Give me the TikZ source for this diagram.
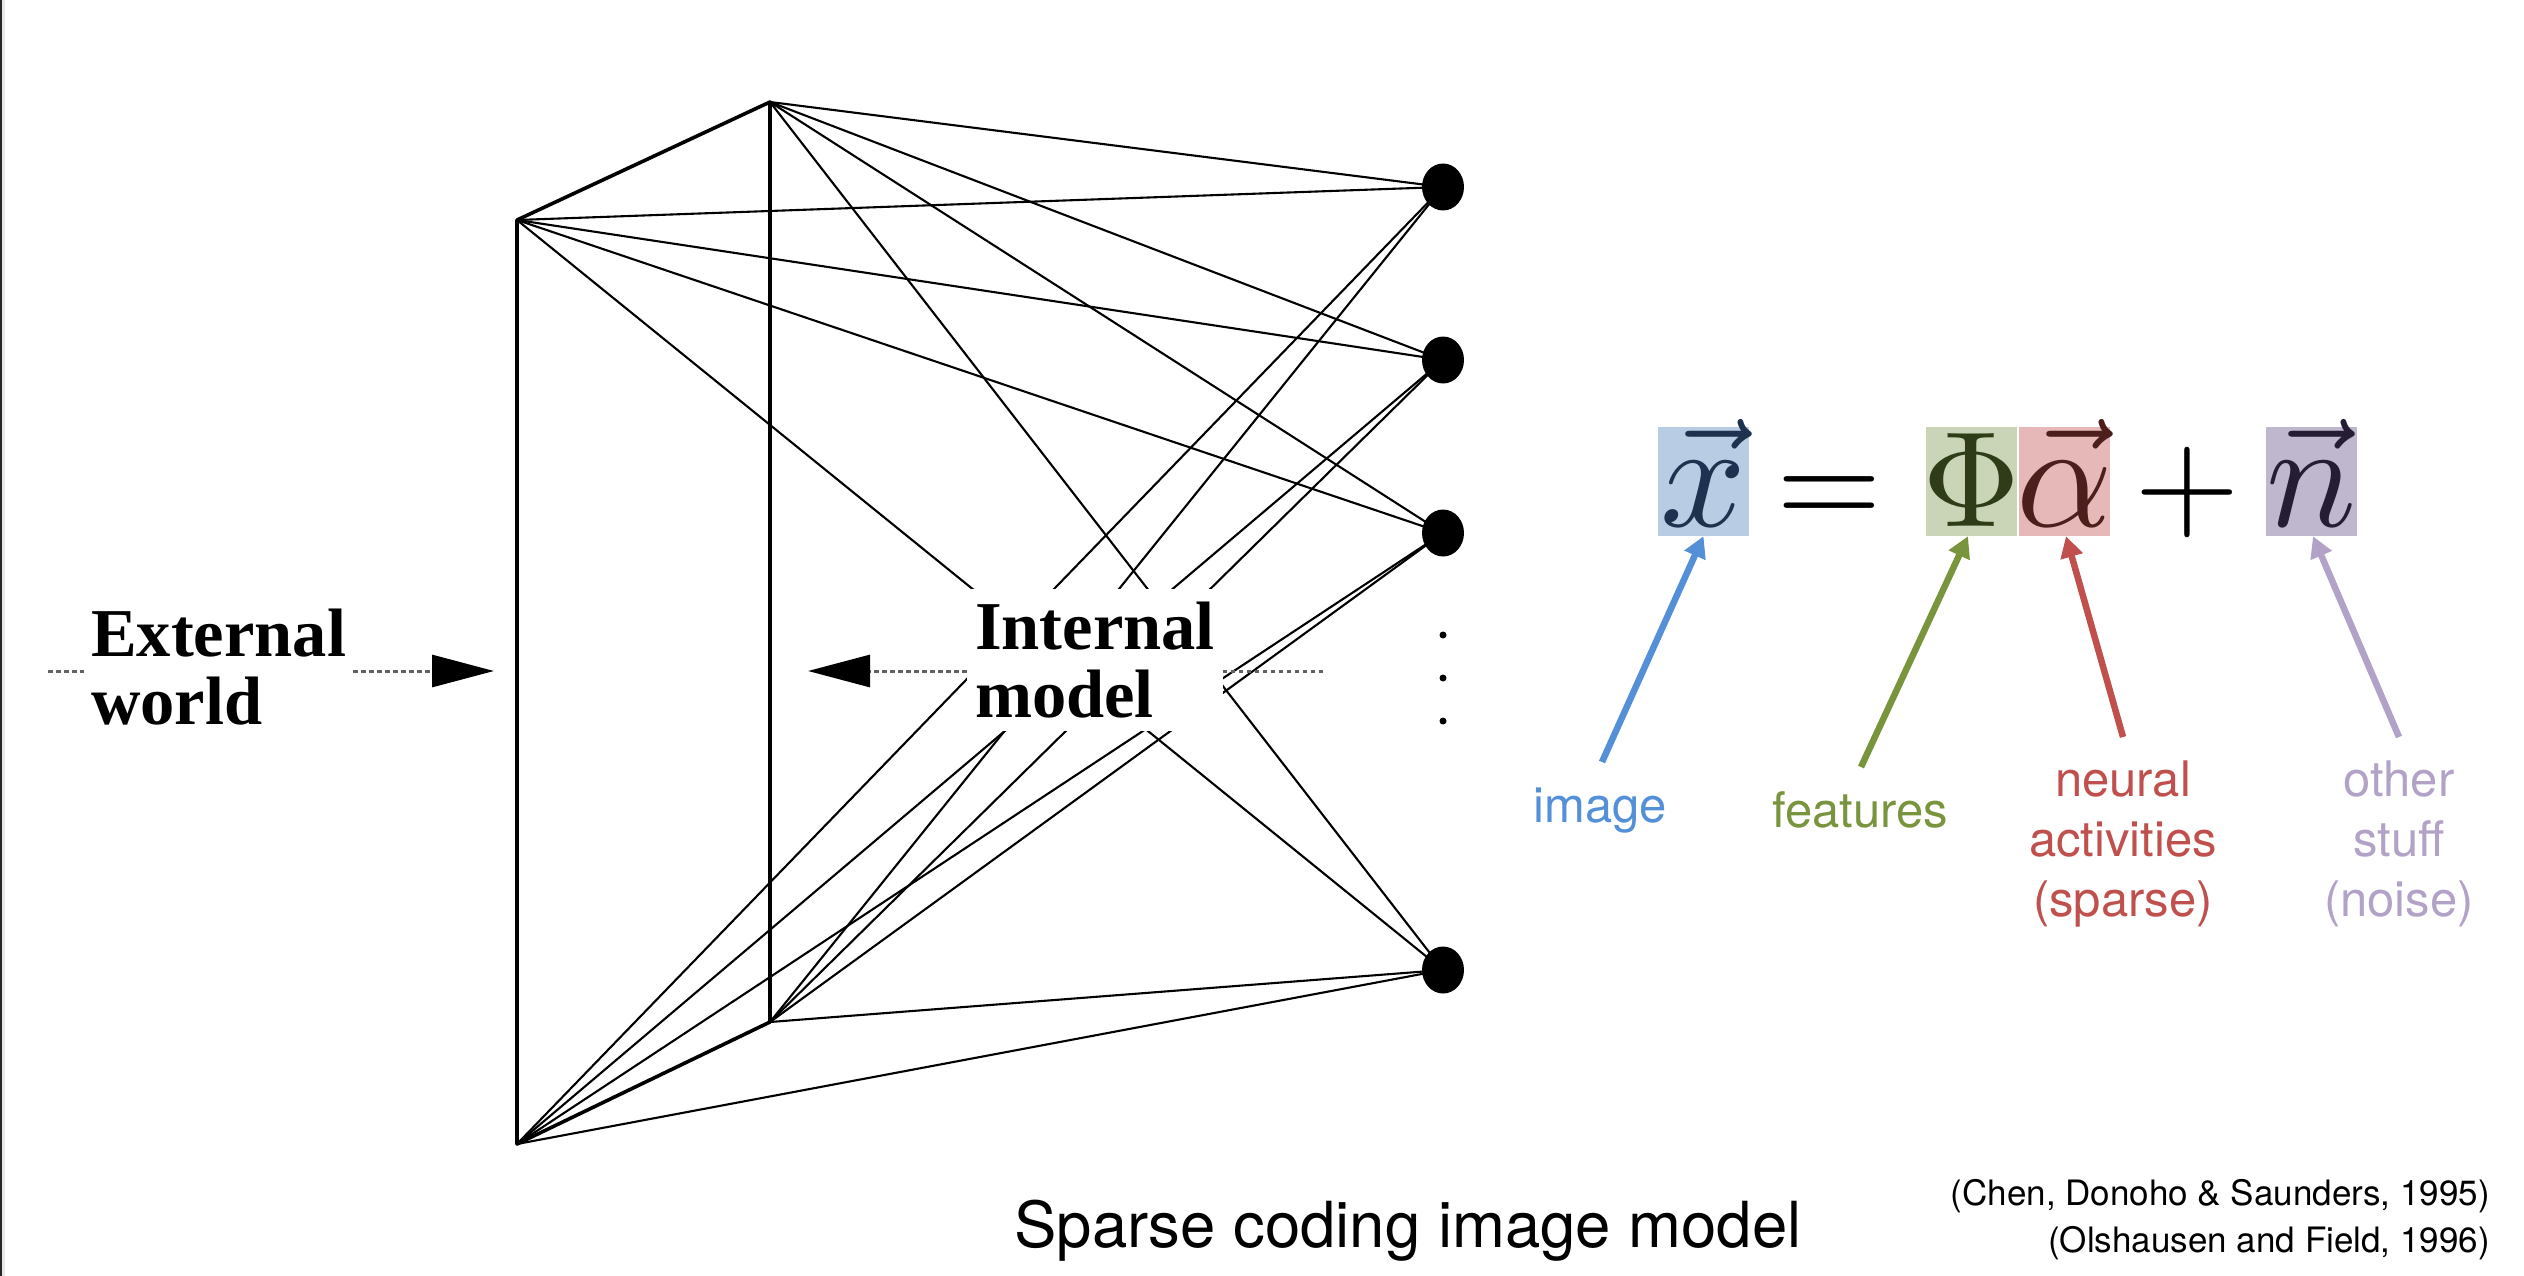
\documentclass[tikz,border=0pt]{standalone}
\usepackage{fontspec}
\newfontfamily\tms{Liberation Serif}
\newfontfamily\hv{TeX Gyre Heros}
\usetikzlibrary{arrows.meta,shapes.geometric}
\definecolor{imgc}{HTML}{5490D8}
\definecolor{featc}{HTML}{78943C}
\definecolor{neurc}{HTML}{C0504D}
\definecolor{noisec}{HTML}{B2A2C8}
\definecolor{xboxc}{HTML}{B8CCE4}
\definecolor{phiboxc}{HTML}{CAD4B6}
\definecolor{alboxc}{HTML}{E6B9B8}
\definecolor{nboxc}{HTML}{BFB7CE}
\definecolor{xtxt}{HTML}{1E3250}
\definecolor{phitxt}{HTML}{2E3C18}
\definecolor{altxt}{HTML}{4C1E1C}
\definecolor{ntxt}{HTML}{241D34}
\definecolor{bordc}{HTML}{262626}
\newcommand{\eqvar}[1]{\scalebox{15}{$#1$}}
\newcommand{\eqop}[1]{\scalebox{13.6}{$#1$}}
\begin{document}
\begin{tikzpicture}[x=1pt,y=-1pt,
  conn/.style={line width=2.1pt, black},
  planeedge/.style={line width=3.6pt, black, line join=round, line cap=round},
  unit/.style={ellipse, fill=black, minimum width=42pt, minimum height=47pt, inner sep=0pt},
  smalldot/.style={circle, fill=black, minimum size=7pt, inner sep=0pt},
  dotline/.style={line width=3pt, black!62, dash pattern=on 4.5pt off 3.5pt},
  bigtip/.style={-{Triangle[length=62pt,width=32pt,color=black,fill=black]}},
  boldlbl/.style={font=\tms\bfseries\fontsize{68.5}{68}\selectfont, align=left, fill=white, inner sep=0pt},
  eqbox/.style={minimum width=91pt, minimum height=109pt, inner sep=0pt, draw=none},
  mathlbl/.style={anchor=base, inner sep=0pt},
  larr/.style={line width=6.5pt, -{Triangle[length=21pt,width=22pt]}},
  lbl/.style={anchor=base, inner sep=0pt, font=\hv\fontsize{49}{60}\selectfont},
  cite/.style={anchor=base east, inner sep=0pt, font=\hv\fontsize{35}{47}\selectfont}
]
\useasboundingbox (0,0) rectangle (2524,1276);
\fill[white] (0,0) rectangle (2524,1276);
\fill[bordc] (0,0) rectangle (2.2,1276);
\fill[black!9] (2.2,0) rectangle (5,1276);

% plane vertices
\coordinate (T) at (770,102);
\coordinate (A) at (517,220);
\coordinate (B) at (770,1022);
\coordinate (C) at (517,1144);

% units
\node[unit] (d1) at (1443,187) {};
\node[unit] (d2) at (1443,360) {};
\node[unit] (d3) at (1443,533) {};
\node[unit] (d4) at (1443,970) {};
\node[smalldot] (e1) at (1443,635) {};
\node[smalldot] (e2) at (1443,678) {};
\node[smalldot] (e3) at (1443,721) {};

% connections
\foreach \v in {T,A,B,C}
  \foreach \d in {d1,d2,d3,d4}
    \draw[conn] (\v) -- (\d.center);
\draw[planeedge] (A) -- (T) -- (B) -- (C) -- cycle;

% labels on the left
\node[boldlbl, inner xsep=7pt, inner ysep=8pt, anchor=west] (ext) at (84,667) {External\\world};
\node[boldlbl, inner xsep=8pt, inner ysep=13pt] (int) at (1095,660) {Internal\\model};

\coordinate (ein) at (494,671);
\coordinate (eout) at (48,671);
\coordinate (iin) at (808,671);
\coordinate (iout) at (1323,671);
\draw[dotline] (eout) -- (ext.west |- eout);
\draw[dotline, bigtip] (ext.east |- ein) -- (ein);
\draw[dotline] (iout) -- (int.east |- iout);
\draw[dotline, bigtip] (int.west |- iin) -- (iin);

% equation
\node[eqbox, fill=xboxc] (bx) at (1703.5,481.5) {};
\node[eqbox, fill=phiboxc] (bphi) at (1971.5,481.5) {};
\node[eqbox, fill=alboxc] (bal) at (2064.5,481.5) {};
\node[eqbox, fill=nboxc] (bn) at (2311,481.5) {};
\node[mathlbl, text=xtxt] (mx) at (1703.5,526) {\eqvar{\vec{x}}};
\node[mathlbl] (meq) at (1829,526) {\eqop{=}};
\node[mathlbl, text=phitxt] (mphi) at (1971.5,526) {\eqop{\Phi}};
\node[mathlbl, text=altxt] (mal) at (2064.5,526) {\eqvar{\vec{\alpha}}};
\node[mathlbl] (mplus) at (2187,526) {\eqop{+}};
\node[mathlbl, text=ntxt] (mn) at (2311,526) {\eqvar{\vec{n}}};

% annotation labels
\node[lbl, text=imgc] (limg) at (1600,822) {image};
\node[lbl, text=featc] (lfeat) at (1860,827) {features};
\node[lbl, text=neurc] (ln1) at (2123,796) {neural};
\node[lbl, text=neurc] (ln2) at (2123,856) {activities};
\node[lbl, text=neurc] (ln3) at (2123,916) {(sparse)};
\node[lbl, text=noisec] (lo1) at (2399,796) {other};
\node[lbl, text=noisec] (lo2) at (2399,856) {stuff};
\node[lbl, text=noisec] (lo3) at (2399,916) {(noise)};

\coordinate (timg) at (1602,762);
\coordinate (tfeat) at (1861,767);
\coordinate (tneur) at (2123,737);
\coordinate (tnoise) at (2399,737);
\draw[larr, imgc] (timg) -- (bx.south);
\draw[larr, featc] (tfeat) -- (bphi.south -| 1968,0);
\draw[larr, neurc] (tneur) -- (bal.south -| 2066,0);
\draw[larr, noisec] (tnoise) -- (bn.south -| 2313,0);

% caption and references
\node[anchor=base, inner sep=0pt, font=\hv\fontsize{63.5}{70}\selectfont] (title) at (1408,1247) {Sparse coding image model};
\node[cite] (c1) at (2490,1205) {(Chen, Donoho \& Saunders, 1995)};
\node[cite] (c2) at (2490,1252) {(Olshausen and Field, 1996)};
\end{tikzpicture}
\end{document}
